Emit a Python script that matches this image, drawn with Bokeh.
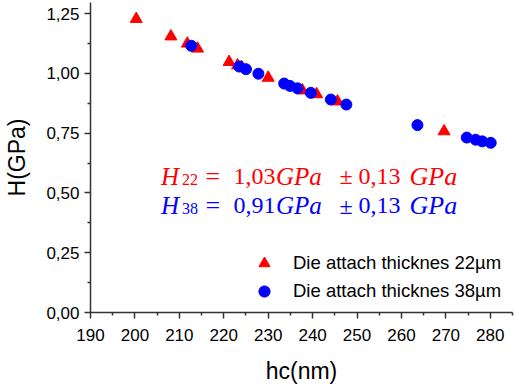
from bokeh.plotting import figure
from bokeh.models import (Range1d, FixedTicker, CustomJSTickFormatter, Label,
                          Legend, LegendItem)
from bokeh.embed import file_html
from bokeh.resources import INLINE

# ---- data ----
hc_22 = [200.3, 208.1, 211.8, 214.1, 221.2, 223.1, 224.0, 230.0, 237.7, 240.9, 245.6, 269.6]
h_22 = [1.228, 1.155, 1.125, 1.104, 1.048, 1.034, 1.027, 0.982, 0.929, 0.913, 0.883, 0.758]

hc_38 = [212.7, 223.5, 225.0, 227.8, 233.6, 234.9, 236.6, 239.6, 244.1, 247.6,
         263.6, 274.7, 276.7, 278.2, 280.1]
h_38 = [1.116, 1.029, 1.018, 0.999, 0.958, 0.948, 0.938, 0.919, 0.891, 0.870,
        0.784, 0.732, 0.723, 0.716, 0.710]

x_ticks = [190, 200, 210, 220, 230, 240, 250, 260, 270, 280]
x_minor = [195, 205, 215, 225, 235, 245, 255, 265, 275, 285]
y_ticks = [0.0, 0.25, 0.5, 0.75, 1.0, 1.25]
y_minor = [0.125, 0.375, 0.625, 0.875, 1.125]

label_22 = "Die attach thicknes 22µm"
label_38 = "Die attach thicknes 38µm"
sub_22, mean_22, std_22 = "22", 1.03, 0.13
sub_38, mean_38, std_38 = "38", 0.91, 0.13

RED = "#ff0000"
BLUE = "#0000ff"

p = figure(frame_width=422, frame_height=310,
           x_range=Range1d(190, 285), y_range=Range1d(0, 1.297),
           output_backend="svg", toolbar_location=None,
           min_border_left=90, min_border_right=4,
           min_border_top=2, min_border_bottom=72)
p.outline_line_color = None
p.xgrid.visible = False
p.ygrid.visible = False
p.background_fill_color = "white"
p.border_fill_color = "white"

fmt_js = "return tick.toFixed(%d).replace('.', ',');"
p.xaxis.ticker = FixedTicker(ticks=x_ticks, minor_ticks=x_minor)
p.yaxis.ticker = FixedTicker(ticks=y_ticks, minor_ticks=y_minor)
p.xaxis.formatter = CustomJSTickFormatter(code=fmt_js % 0)
p.yaxis.formatter = CustomJSTickFormatter(code=fmt_js % 2)

for ax in (p.xaxis[0], p.yaxis[0]):
    ax.axis_line_color = "#333333"
    ax.axis_line_width = 1.5
    ax.major_tick_line_color = "#333333"
    ax.minor_tick_line_color = "#333333"
    ax.major_tick_line_width = 1.5
    ax.minor_tick_line_width = 1.5
    ax.major_tick_in = 0
    ax.major_tick_out = 6
    ax.minor_tick_in = 0
    ax.minor_tick_out = 3
    ax.major_label_text_font = "Liberation Sans"
    ax.major_label_text_font_size = "17px"
    ax.major_label_text_color = "black"
    ax.axis_label_text_font = "Liberation Sans"
    ax.axis_label_text_font_size = "23px"
    ax.axis_label_text_font_style = "normal"
    ax.axis_label_text_color = "black"

p.xaxis.axis_label = "hc(nm)"
p.yaxis.axis_label = "H(GPa)"
p.xaxis.major_label_standoff = 10
p.xaxis.axis_label_standoff = 14
p.yaxis.major_label_standoff = 5
p.yaxis.axis_label_standoff = 13

r22 = p.scatter(hc_22, h_22, marker="triangle", size=12,
                fill_color=RED, line_color=RED)
r38 = p.scatter(hc_38, h_38, marker="circle", size=11,
                fill_color=BLUE, line_color=BLUE)

legend = Legend(items=[LegendItem(label=label_22, renderers=[r22]),
                       LegendItem(label=label_38, renderers=[r38])],
                location=(160, 7))
legend.border_line_color = None
legend.background_fill_alpha = 0
legend.padding = 0
legend.margin = 0
legend.spacing = -5
legend.glyph_width = 28
legend.glyph_height = 28
legend.label_standoff = 15
legend.label_text_font = "Liberation Sans"
legend.label_text_font_size = "18.5px"
legend.label_text_color = "black"
p.add_layout(legend)


def fmt(v):
    return f"{v:.2f}".replace(".", ",")


FRAME_LEFT, FRAME_BOTTOM = 93, 315


def add_formula(sub, mean, std, baseline, color):
    pieces = [
        ("H", 163.5, "italic", 25, 0),
        (sub, 184.5, "normal", 16, 3),
        ("=", 208.0, "normal", 26, 0),
        (fmt(mean), 236.0, "normal", 24, 0),
        ("GPa", 278.5, "italic", 25, 0),
        ("±", 342.0, "normal", 24, 0),
        (fmt(std), 361.0, "normal", 24, 0),
        ("GPa", 412.0, "italic", 26, 0),
    ]
    for txt, px, style, size, dy in pieces:
        p.add_layout(Label(x=px - FRAME_LEFT, y=FRAME_BOTTOM - baseline - dy,
                           x_units="screen", y_units="screen", text=txt,
                           text_font="Liberation Serif", text_font_style=style,
                           text_font_size=f"{size}px", text_color=color,
                           text_baseline="alphabetic", text_align="left"))


add_formula(sub_22, mean_22, std_22, 178.5, RED)
add_formula(sub_38, mean_38, std_38, 208.0, BLUE)

open("out.html", "w").write(file_html(p, INLINE))
